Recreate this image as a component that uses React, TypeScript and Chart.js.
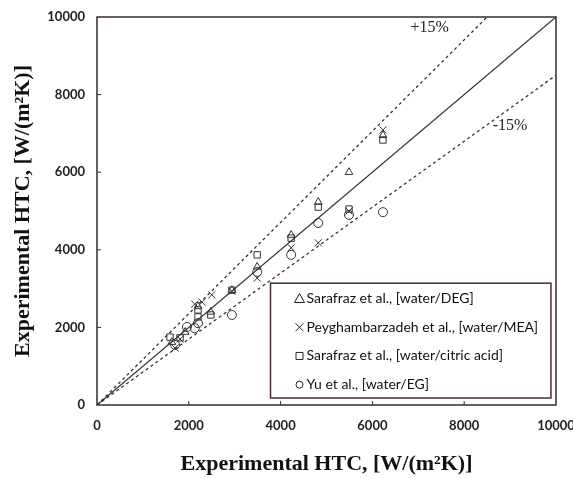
import React, { useEffect, useRef } from "react";
import { Chart, registerables } from "chart.js";

Chart.register(...registerables);

// Data: [predicted/experimental x, experimental y]
const deg_x = [1630, 1920, 2200, 2480, 2940, 3490, 4230, 4820, 5490, 6230];
const deg_y = [1620, 1880, 2540, 2400, 2960, 3560, 4380, 5230, 6000, 6950];

const mea_x = [1700, 1810, 2130, 2290, 2500, 2940, 3490, 4230, 4820, 5490, 6230];
const mea_y = [1470, 1700, 2600, 2650, 2840, 2930, 3270, 4050, 4180, 5000, 7090];

const cit_x = [1590, 1810, 2200, 2200, 2480, 2940, 3490, 4230, 4820, 5490, 6230];
const cit_y = [1750, 1730, 2450, 2270, 2320, 2960, 3870, 4300, 5100, 5050, 6830];

const eg_x = [1700, 1960, 2130, 2200, 2940, 3490, 4230, 4820, 5490, 6230];
const eg_y = [1550, 2010, 1980, 2110, 2320, 3430, 3870, 4690, 4900, 4970];

const seriesNames = [
  "Sarafraz et al., [water/DEG]",
  "Peyghambarzadeh et al., [water/MEA]",
  "Sarafraz et al., [water/citric acid]",
  "Yu et al., [water/EG]",
];
const seriesStyles = ["triangle", "crossRot", "rect", "circle"];

const ticksVals = [0, 2000, 4000, 6000, 8000, 10000];

const toPts = (xs: number[], ys: number[]) => xs.map((x, i) => ({ x, y: ys[i] }));

export default function App() {
  const ref = useRef<HTMLCanvasElement | null>(null);
  useEffect(() => {
    document.body.style.margin = "0";
    const ctx = ref.current!;

    const decor = {
      id: "decor",
      afterDraw(chart: any) {
        const c = chart.ctx;
        const a = chart.chartArea;
        const xs = chart.scales.x;
        const ys = chart.scales.y;
        c.save();
        // box
        c.strokeStyle = "#3a2a33";
        c.lineWidth = 1.5;
        c.strokeRect(a.left, a.top, a.right - a.left, a.bottom - a.top);
        // inward ticks
        c.lineWidth = 1;
        c.strokeStyle = "#333";
        ticksVals.slice(1, -1).forEach((v) => {
          const px = xs.getPixelForValue(v);
          c.beginPath();
          c.moveTo(px, a.bottom);
          c.lineTo(px, a.bottom - 4);
          c.stroke();
          const py = ys.getPixelForValue(v);
          c.beginPath();
          c.moveTo(a.left, py);
          c.lineTo(a.left + 4, py);
          c.stroke();
        });
        // +15% / -15% labels
        c.fillStyle = "#222";
        c.font = "16px 'Liberation Serif'";
        c.textAlign = "center";
        c.textBaseline = "middle";
        c.fillText("+15%", xs.getPixelForValue(7250), ys.getPixelForValue(9720));
        c.fillText("-15%", xs.getPixelForValue(9000), ys.getPixelForValue(7200));
        // legend box
        const lx = xs.getPixelForValue(3780);
        const ly = ys.getPixelForValue(3140);
        const rx = xs.getPixelForValue(9890);
        const by = ys.getPixelForValue(180);
        c.fillStyle = "#fff";
        c.fillRect(lx, ly, rx - lx, by - ly);
        c.strokeStyle = "#4a2a35";
        c.lineWidth = 1.5;
        c.strokeRect(lx, ly, rx - lx, by - ly);
        const rowH = (by - ly) / 4;
        c.font = "14px Lato";
        c.textAlign = "left";
        c.textBaseline = "middle";
        seriesNames.forEach((name, i) => {
          const cy = ly + rowH * (i + 0.5) + 1;
          const mx = lx + 29;
          c.strokeStyle = "#222";
          c.lineWidth = 1;
          c.beginPath();
          const s = seriesStyles[i];
          if (s === "triangle") {
            c.moveTo(mx, cy - 5);
            c.lineTo(mx + 5, cy + 4);
            c.lineTo(mx - 5, cy + 4);
            c.closePath();
          } else if (s === "crossRot") {
            c.moveTo(mx - 4, cy - 4);
            c.lineTo(mx + 4, cy + 4);
            c.moveTo(mx + 4, cy - 4);
            c.lineTo(mx - 4, cy + 4);
          } else if (s === "rect") {
            c.rect(mx - 3.5, cy - 3.5, 7, 7);
          } else {
            c.arc(mx, cy, 3.5, 0, Math.PI * 2);
          }
          c.stroke();
          c.fillStyle = "#111";
          c.fillText(name, mx + 7, cy);
        });
        c.restore();
      },
    };

    const scatterDs = [
      [deg_x, deg_y],
      [mea_x, mea_y],
      [cit_x, cit_y],
      [eg_x, eg_y],
    ].map(([xs, ys], i) => ({
      type: "scatter" as const,
      label: seriesNames[i],
      data: toPts(xs, ys),
      pointStyle: seriesStyles[i],
      pointRadius: i === 1 ? 5 : 4.5,
      borderColor: "#333",
      backgroundColor: "rgba(0,0,0,0)",
      borderWidth: 1,
      showLine: false,
    }));

    const lineDs = [
      { data: [{ x: 0, y: 0 }, { x: 10000, y: 10000 }], dash: [] as number[], w: 1.3 },
      { data: [{ x: 0, y: 0 }, { x: 8500, y: 10000 }], dash: [3, 3], w: 1.3 },
      { data: [{ x: 0, y: 0 }, { x: 10000, y: 8500 }], dash: [3, 3], w: 1.3 },
    ].map((l) => ({
      type: "line" as const,
      label: "",
      data: l.data,
      borderColor: "#333",
      borderWidth: l.w,
      borderDash: l.dash,
      pointRadius: 0,
      fill: false,
    }));

    const tickFont = { family: "Lato", size: 13, weight: "bold" as const };
    const titleFont = { family: "Liberation Serif", size: 22, weight: "bold" as const };
    const fmt = (v: any) => String(v);

    const chart = new Chart(ctx, {
      type: "scatter",
      data: { datasets: [...lineDs, ...scatterDs] as any },
      options: {
        animation: false,
        responsive: false,
        layout: { padding: { left: 0, right: 17, top: 17, bottom: 0 } },
        plugins: { legend: { display: false }, tooltip: { enabled: false } },
        scales: {
          x: {
            type: "linear",
            min: 0,
            max: 10000,
            afterFit: (s: any) => {
              s.height = 73;
              s.paddingLeft = 0;
              s.paddingRight = 0;
            },
            grid: { display: false, drawTicks: false },
            border: { display: false },
            ticks: {
              stepSize: 2000,
              padding: 13,
              color: "#222",
              font: tickFont,
              callback: fmt,
            },
            title: {
              display: true,
              text: "Experimental HTC, [W/(m\u00B2K)]",
              color: "#111",
              font: titleFont,
              padding: { top: 12, bottom: 0 },
            },
          },
          y: {
            type: "linear",
            min: 0,
            max: 10000,
            afterFit: (s: any) => {
              s.width = 97;
              s.paddingTop = 0;
              s.paddingBottom = 0;
            },
            grid: { display: false, drawTicks: false },
            border: { display: false },
            ticks: {
              stepSize: 2000,
              padding: 12,
              color: "#222",
              font: tickFont,
              callback: fmt,
            },
            title: {
              display: true,
              text: "Experimental HTC, [W/(m\u00B2K)]",
              color: "#111",
              font: titleFont,
              padding: { top: 10, bottom: 0 },
            },
          },
        },
      },
      plugins: [decor],
    });
    return () => chart.destroy();
  }, []);
  return (
    <div style={{ position: "absolute", left: 0, top: 0, width: 573, height: 478, background: "#fff" }}>
      <canvas ref={ref} width={573} height={478} style={{ width: 573, height: 478 }} />
    </div>
  );
}
